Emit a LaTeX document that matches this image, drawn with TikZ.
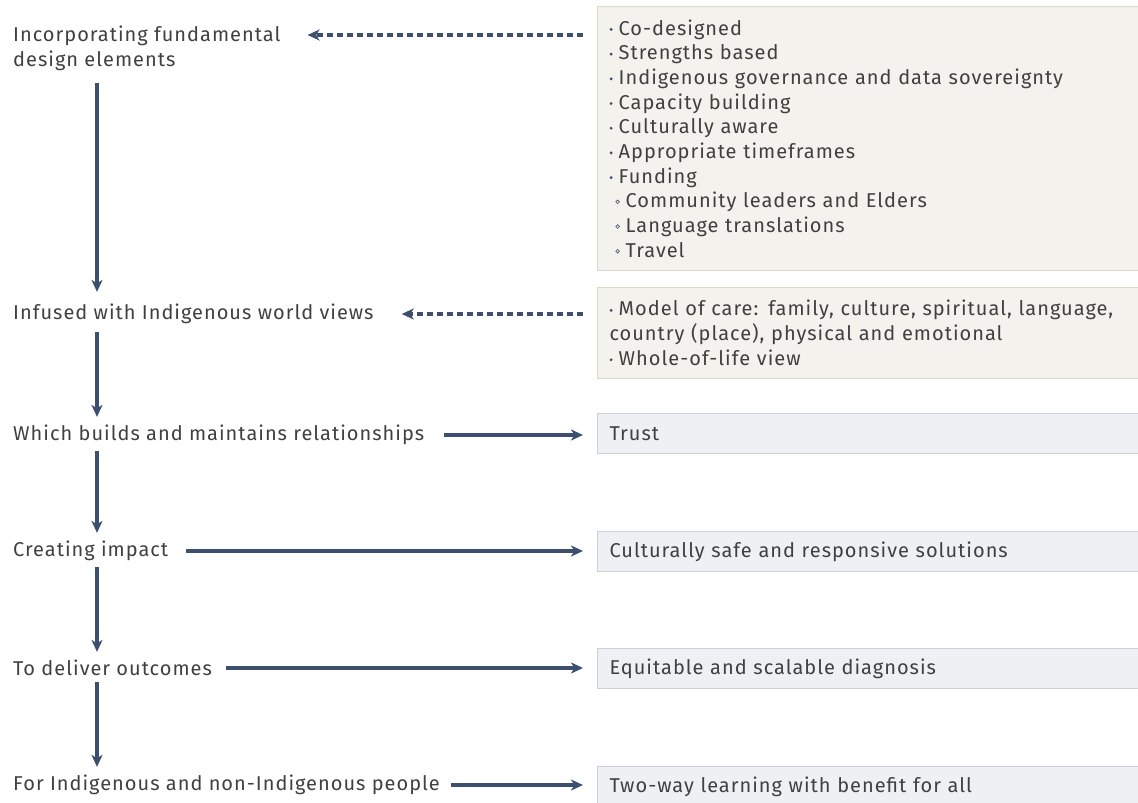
\documentclass[tikz,border=0pt]{standalone}
\usepackage{fontspec}
\setmainfont{Fira Sans}[LetterSpace=5]
\usetikzlibrary{arrows.meta}
\definecolor{txt}{HTML}{404040}
\definecolor{arrowc}{HTML}{3D4F6E}
\definecolor{beigefill}{HTML}{F4F2EC}
\definecolor{beigeline}{HTML}{DCD9C6}
\definecolor{greyfill}{HTML}{EEF0F4}
\definecolor{greyline}{HTML}{CBD0DA}
\newcommand\bul{\raisebox{0.2em}{\tikz\fill[arrowc] (0,0) circle (1.6pt);}\hspace{0.3em}}
\newcommand\sbul{\hspace{0.3em}\raisebox{0.2em}{\tikz\draw[arrowc,line width=0.6pt] (0,0) circle (1.8pt);}\hspace{0.3em}}
\begin{document}
\begin{tikzpicture}[x=1pt,y=-1pt,
  every node/.style={font=\fontsize{20}{24.7}\selectfont, text=txt},
  lefttext/.style={inner sep=0pt, align=left},
  beigebox/.style={draw=beigeline, fill=beigefill, line width=1pt, anchor=north west, inner xsep=12pt, inner ysep=0pt, align=left, text width=517pt},
  greybox/.style={draw=greyline, fill=greyfill, line width=1pt, anchor=north west, inner xsep=12pt, inner ysep=0pt, align=left, text width=517pt, minimum height=40pt},
  arr/.style={draw=arrowc, line width=3.6pt, -{Stealth[length=12pt,width=11pt,inset=3.5pt]}},
  darr/.style={arr, dash pattern=on 6pt off 4pt},
]
\useasboundingbox (0,0) rectangle (1138,803);

% right boxes
\node[beigebox, minimum height=264pt] (b1) at (597,6) {%
\bul Co-designed\\
\bul Strengths based\\
\bul Indigenous governance and data sovereignty\\
\bul Capacity building\\
\bul Culturally aware\\
\bul Appropriate timeframes\\
\bul Funding\\
\sbul Community leaders and Elders\\
\sbul Language translations\\
\sbul Travel};
\node[beigebox, minimum height=91pt] (b2) at (597,287) {%
\bul Model of care: family, culture, spiritual, language,\\
country (place), physical and emotional\\
\bul Whole-of-life view};
\node[greybox] (b3) at (597,413) {Trust};
\node[greybox] (b4) at (597,531) {Culturally safe and responsive solutions};
\node[greybox] (b5) at (597,648) {Equitable and scalable diagnosis};
\node[greybox] (b6) at (597,766) {Two-way learning with benefit for all};

% left texts
\node[lefttext, anchor=north west] (t1) at (13,26) {Incorporating fundamental\\design elements};
\node[lefttext, anchor=west] (t2) at (13,314) {Infused with Indigenous world views};
\node[lefttext, anchor=west] (t3) at (13,435) {Which builds and maintains relationships};
\node[lefttext, anchor=west] (t4) at (13,551) {Creating impact};
\node[lefttext, anchor=west] (t5) at (13,668) {To deliver outcomes};
\node[lefttext, anchor=west] (t6) at (13,785) {For Indigenous and non-Indigenous people};

\coordinate (v) at (97,0);

% vertical arrows
\draw[arr] ([yshift=-12pt]t1.south -| v) -- ([yshift=12pt]t2.north -| v);
\draw[arr] ([yshift=-8pt]t2.south -| v) -- ([yshift=8pt]t3.north -| v);
\draw[arr] ([yshift=-6pt]t3.south -| v) -- ([yshift=8pt]t4.north -| v);
\draw[arr] ([yshift=-6pt]t4.south -| v) -- ([yshift=8pt]t5.north -| v);
\draw[arr] ([yshift=-6pt]t5.south -| v) -- ([yshift=8pt]t6.north -| v);

% horizontal arrows
\coordinate (h1) at (0,35);
\draw[darr] ([xshift=-14pt]b1.west |- h1) -- ([xshift=27pt]t1.east |- h1);
\draw[darr] ([xshift=-14pt]b2.west |- t2.east) -- ([xshift=28pt]t2.east);
\draw[arr] ([xshift=20pt]t3.east) -- ([xshift=-14pt]b3.west |- t3.east);
\draw[arr] ([xshift=18pt]t4.east) -- ([xshift=-14pt]b4.west |- t4.east);
\draw[arr] ([xshift=14pt]t5.east) -- ([xshift=-14pt]b5.west |- t5.east);
\draw[arr] ([xshift=11pt]t6.east) -- ([xshift=-14pt]b6.west |- t6.east);
\end{tikzpicture}
\end{document}
